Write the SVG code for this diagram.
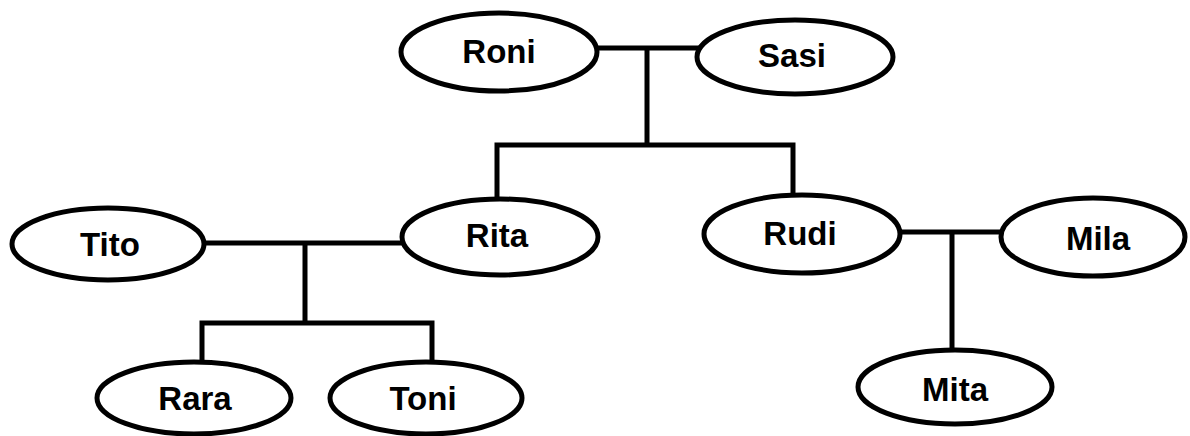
<svg xmlns="http://www.w3.org/2000/svg" width="1190" height="436" viewBox="0 0 1190 436">
<style>
.n{fill:#fff;stroke:#000;stroke-width:5}
.t{font-family:"Liberation Sans",Arial,sans-serif;font-weight:bold;font-size:33px;text-anchor:middle;fill:#000}
.c{fill:none;stroke:#000;stroke-width:5;stroke-linecap:square}
</style>
<rect width="1190" height="436" fill="#fff"/>
<g id="connectors">
<path class="c" d="M597 48H697M647 48V145M497 145H793M497 145V198M793 145V195"/>
<path class="c" d="M204 243H405M305 243V323M202 323H432M202 323V362M432 323V362"/>
<path class="c" d="M900 232H1001M952 232V350"/>
</g>
<g id="roni"><ellipse class="n" cx="499" cy="52" rx="98" ry="39"/><text class="t" x="499" y="63">Roni</text></g>
<g id="sasi"><ellipse class="n" cx="795" cy="57" rx="98" ry="37"/><text class="t" x="792" y="67">Sasi</text></g>
<g id="tito"><ellipse class="n" cx="108" cy="244" rx="96" ry="36"/><text class="t" x="110" y="256">Tito</text></g>
<g id="rita"><ellipse class="n" cx="500" cy="237" rx="98" ry="38"/><text class="t" x="497" y="247">Rita</text></g>
<g id="rudi"><ellipse class="n" cx="802" cy="234" rx="98" ry="39"/><text class="t" x="800" y="245">Rudi</text></g>
<g id="mila"><ellipse class="n" cx="1093" cy="237" rx="92" ry="39"/><text class="t" x="1098" y="250">Mila</text></g>
<g id="rara"><ellipse class="n" cx="194" cy="398" rx="97" ry="36"/><text class="t" x="195" y="410">Rara</text></g>
<g id="toni"><ellipse class="n" cx="426" cy="398" rx="96" ry="36"/><text class="t" x="423" y="410">Toni</text></g>
<g id="mita"><ellipse class="n" cx="955" cy="387" rx="97" ry="37"/><text class="t" x="955" y="401">Mita</text></g>
</svg>
